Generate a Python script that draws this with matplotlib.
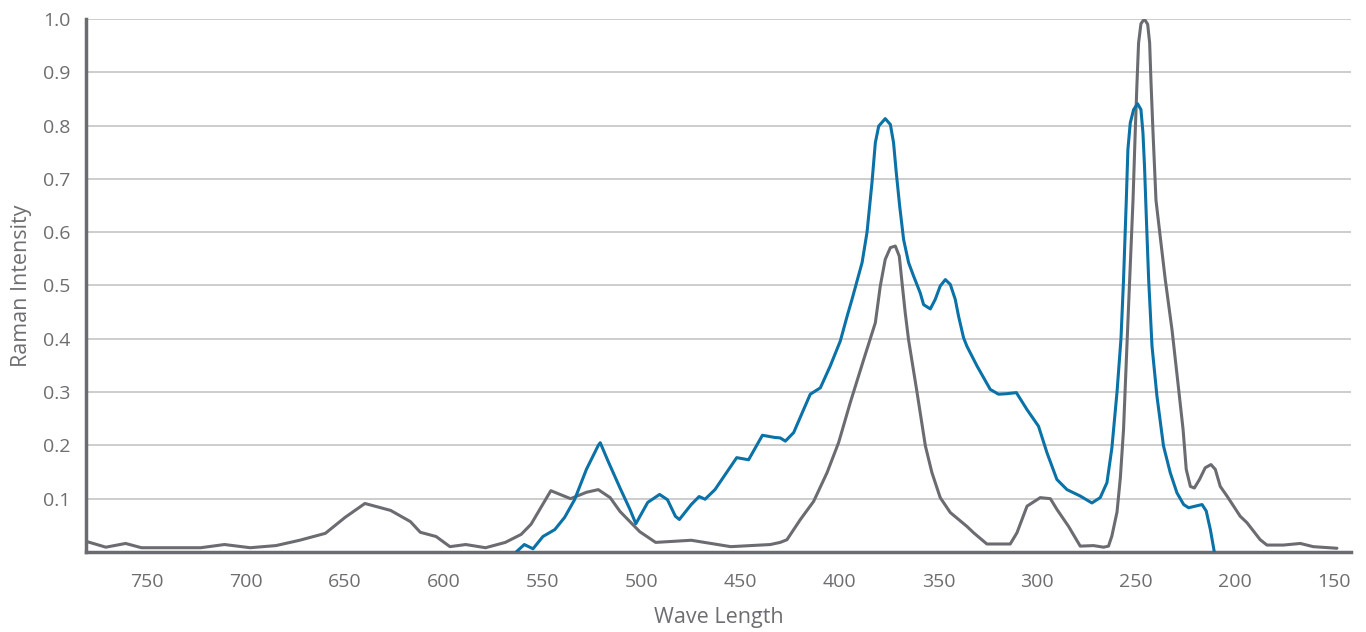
import matplotlib
matplotlib.use('Agg')
import matplotlib.pyplot as plt

# gray spectrum (wavelength, intensity)
gray_x = [781, 771, 761, 753, 723, 711, 698, 685, 673, 660, 650, 640, 627, 617, 612,
          604, 597, 589, 579, 569, 561, 556, 546, 536, 528, 522, 516, 511, 501, 493,
          475, 455, 435, 430.0, 426.6, 419.8, 413.1, 406.3, 400.5, 394.6, 387.8,
          381.9, 379.4, 376.9, 374.3, 371.8, 369.8, 368.4, 366.8, 365.1, 360.8,
          356.6, 353.3, 349.1, 344.0, 335.6, 332.2, 325.5, 313.7, 310.3, 305.2,
          298.5, 293.4, 290.1, 284.2, 278.3, 271.6, 266.5, 264.0, 262.3, 259.7,
          258.0, 256.4, 254.7, 253.3, 251.6, 250.5, 249.6, 248.8, 247.6, 245.9,
          244.2, 243.2, 242.5, 241.5, 240.0, 237.8, 235.3, 231.9, 229.1, 226.3,
          224.7, 222.6, 220.6, 218.0, 215.1, 212.2, 210.0, 207.5, 204.1, 197.4,
          194.0, 187.3, 183.9, 175.6, 167.0, 160.5, 148.5]
gray_y = [0.020, 0.009, 0.016, 0.008, 0.008, 0.014, 0.008, 0.012, 0.022, 0.035, 0.065,
          0.091, 0.078, 0.057, 0.037, 0.029, 0.010, 0.014, 0.008, 0.018, 0.033, 0.052,
          0.115, 0.100, 0.112, 0.117, 0.102, 0.076, 0.038, 0.018, 0.022, 0.010, 0.014,
          0.018, 0.023, 0.061, 0.095, 0.149, 0.205, 0.280, 0.361,
          0.430, 0.499, 0.549, 0.571, 0.574, 0.555, 0.505, 0.449, 0.398, 0.299,
          0.199, 0.149, 0.102, 0.074, 0.048, 0.036, 0.015, 0.015, 0.036, 0.086,
          0.102, 0.100, 0.080, 0.048, 0.011, 0.012, 0.009, 0.011, 0.030, 0.075,
          0.140, 0.230, 0.386, 0.511, 0.661, 0.787, 0.880, 0.955, 0.991, 1.000,
          0.990, 0.955, 0.880, 0.787, 0.660, 0.590, 0.511, 0.417, 0.324, 0.230,
          0.155, 0.123, 0.120, 0.136, 0.158, 0.164, 0.155, 0.123, 0.105, 0.067,
          0.055, 0.023, 0.013, 0.013, 0.016, 0.010, 0.007]

# blue spectrum
blue_x = [563.5, 559.4, 555, 550, 544, 539, 534, 528, 522, 521, 517, 511, 506, 503,
          497, 491, 487, 483, 481, 475, 471, 468, 463, 452, 446, 439, 433, 430.0,
          427.4, 423.2, 418.2, 414.8, 409.7, 404.7, 399.6, 396.2, 393.7, 388.6,
          386.1, 383.6, 381.9, 380.2, 376.9, 374.3, 372.7, 371.3, 369.6, 367.6,
          365.1, 362.6, 359.2, 357.5, 354.1, 351.6, 349.1, 346.5, 344.0, 341.5,
          339.8, 337.3, 335.6, 330.5, 323.8, 319.6, 315.3, 310.6, 305.2, 299.4,
          295.1, 290.1, 285.0, 278.3, 272.4, 268.2, 264.8, 262.3, 259.7, 257.7,
          256.4, 255.0, 254.2, 253.0, 251.3, 249.3, 247.6, 246.6, 245.8, 244.9,
          243.7, 242.0, 239.5, 236.2, 232.8, 229.4, 226.0, 223.5, 220.1, 216.7,
          214.6, 212.5, 210.5]
blue_y = [0.000, 0.014, 0.006, 0.029, 0.042, 0.065, 0.098, 0.155, 0.200, 0.205, 0.170,
          0.120, 0.080, 0.053, 0.093, 0.108, 0.098, 0.067, 0.061, 0.089, 0.104, 0.099,
          0.117, 0.177, 0.173, 0.219, 0.215, 0.214,
          0.208, 0.224, 0.267, 0.296, 0.308, 0.349, 0.396, 0.442, 0.474, 0.543,
          0.600, 0.693, 0.768, 0.799, 0.813, 0.802, 0.768, 0.711, 0.649, 0.586,
          0.543, 0.518, 0.486, 0.464, 0.456, 0.474, 0.499, 0.511, 0.502, 0.474,
          0.442, 0.402, 0.386, 0.349, 0.305, 0.296, 0.297, 0.299, 0.267, 0.236,
          0.186, 0.136, 0.117, 0.105, 0.092, 0.102, 0.130, 0.195, 0.300, 0.400,
          0.511, 0.661, 0.755, 0.805, 0.830, 0.841, 0.830, 0.787, 0.724, 0.630,
          0.511, 0.386, 0.292, 0.199, 0.149, 0.111, 0.089, 0.083, 0.086, 0.089,
          0.077, 0.042, 0.000]

x_ticks = [750, 700, 650, 600, 550, 500, 450, 400, 350, 300, 250, 200, 150]
y_ticks = [0.1, 0.2, 0.3, 0.4, 0.5, 0.6, 0.7, 0.8, 0.9, 1.0]

text_col = '#6d6e71'
plt.rcParams['font.family'] = ['Open Sans', 'DejaVu Sans']

fig = plt.figure(figsize=(13.66, 6.32), dpi=100)
ax = fig.add_axes([0.063, 0.1266, 0.926, 0.8434])

for y in y_ticks:
    ax.axhline(y, color='#c3c5c7', lw=1.2, zorder=1)

ax.plot(gray_x, gray_y, color='#6b6c71', lw=2.2, zorder=3,
        solid_joinstyle='round', solid_capstyle='round')
ax.plot(blue_x, blue_y, color='#0a72a6', lw=2.2, zorder=4,
        solid_joinstyle='round', solid_capstyle='round')

ax.set_xlim(781, 141.4)
ax.set_ylim(0, 1.0)
ax.set_xticks(x_ticks)
ax.set_yticks(y_ticks)
ax.set_yticklabels([f'{v:.1f}' for v in y_ticks])

for s in ['top', 'right']:
    ax.spines[s].set_visible(False)
for s in ['left', 'bottom']:
    ax.spines[s].set_color('#6b6c71')
    ax.spines[s].set_linewidth(2.5)

ax.tick_params(axis='both', length=0, labelsize=14, colors=text_col)
ax.tick_params(axis='x', pad=15)
ax.tick_params(axis='y', pad=11)
ax.set_xlabel('Wave Length', fontsize=15.5, color=text_col, labelpad=12)
ax.set_ylabel('Raman Intensity', fontsize=15.5, color=text_col, labelpad=8)

fig.savefig('out.png', dpi=100)
